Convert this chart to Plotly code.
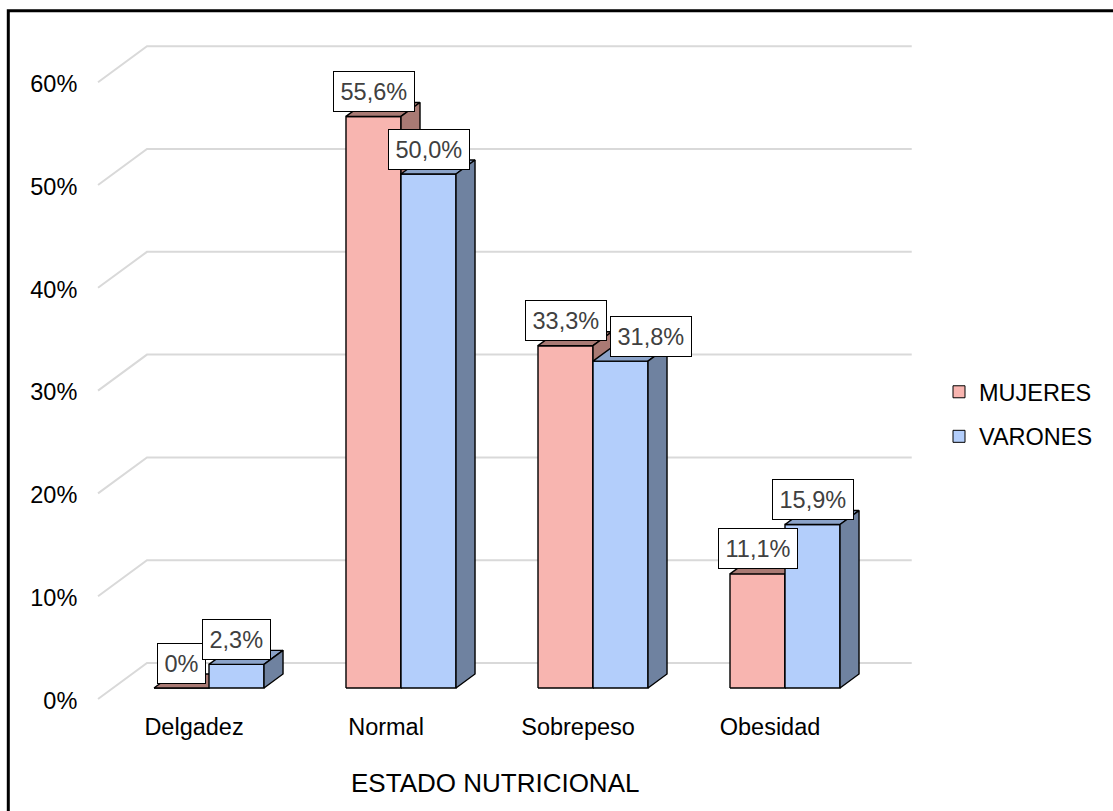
import plotly.graph_objects as go

# ---- data -------------------------------------------------------------
categories = ["Delgadez", "Normal", "Sobrepeso", "Obesidad"]
series_names = ["MUJERES", "VARONES"]
mujeres = [0.0, 55.6, 33.3, 11.1]
varones = [2.3, 50.0, 31.8, 15.9]
value_labels = {
    "MUJERES": ["0%", "55,6%", "33,3%", "11,1%"],
    "VARONES": ["2,3%", "50,0%", "31,8%", "15,9%"],
}
y_ticks = [0, 10, 20, 30, 40, 50, 60]
y_tick_text = ["0%", "10%", "20%", "30%", "40%", "50%", "60%"]

# ---- styling ------------------------------------------------------------
FONT = "Liberation Sans, Arial, sans-serif"
FS = 23.5
colors = {
    "MUJERES": dict(front="#F8B5B0", top="#A97A74", side="#A97A74"),
    "VARONES": dict(front="#B3CEFB", top="#8BA3C9", side="#6F82A0"),
}
EDGE = "#000000"
GRID = "#D9D9D9"

# page layout (pixels)
W, H = 1113, 811
ML, MR, MT, MB = 90, 5, 30, 109
PLOT_RIGHT = 920
PW, PH = W - ML - MR, H - MT - MB


def px_x(px):
    return (px - ML) / PW


def px_y(py):
    return (H - MB - py) / PH


# pseudo-3D geometry (in axis units)
BAR_W = 0.2865          # width of one column
DEPTH_X = 0.099         # column depth, horizontal component
DEPTH_Y = 1.36          # column depth, vertical component
WALL_LEFT_FRONT = -0.578
WALL_LEFT_BACK = -0.323
WALL_RIGHT = 3.66
WALL_BACK_DY = 2.43     # back wall offset above the column plane
WALL_FRONT_DY = -1.07   # front edge offset below the column plane
TICK_Y_DY = -1.216      # value-axis labels sit on the front edge
CAT_LABEL_DX = -0.078   # category labels sit on the front edge

LABEL_YSHIFT = 25       # px above the column's front top edge
LABEL_CLASH = 2.0       # values closer than this push the 2nd label sideways
LABEL_NUDGE = 30        # px sideways nudge for clashing labels

X_RANGE = [-0.6198, 3.7031]
Y_RANGE = [-1.362, 64.008]

fig = go.Figure()

# gridlines: diagonal on the side plane plus horizontal line on the back wall
gx, gy = [], []
for v in y_ticks:
    gx += [WALL_LEFT_FRONT, WALL_LEFT_BACK, WALL_RIGHT, None]
    gy += [v + WALL_FRONT_DY, v + WALL_BACK_DY, v + WALL_BACK_DY, None]
fig.add_trace(go.Scatter(x=gx, y=gy, mode="lines",
                         line=dict(color=GRID, width=2),
                         hoverinfo="skip", showlegend=False))


def poly(xs, ys, fill):
    fig.add_trace(go.Scatter(
        x=xs + [xs[0]], y=ys + [ys[0]], mode="lines", fill="toself",
        fillcolor=fill, line=dict(color=EDGE, width=1.4),
        hoverinfo="skip", showlegend=False))


series_values = {"MUJERES": mujeres, "VARONES": varones}
for i, _cat in enumerate(categories):
    for s, name in enumerate(series_names):
        v = series_values[name][i]
        c = colors[name]
        xl = i - BAR_W + s * BAR_W
        xr = xl + BAR_W
        # front face
        poly([xl, xr, xr, xl], [0, 0, v, v], c["front"])
        # top face
        poly([xl, xr, xr + DEPTH_X, xl + DEPTH_X],
             [v, v, v + DEPTH_Y, v + DEPTH_Y], c["top"])
        # right side face
        poly([xr, xr + DEPTH_X, xr + DEPTH_X, xr],
             [0, DEPTH_Y, v + DEPTH_Y, v], c["side"])

        xshift = 0
        if s == 1 and 0 < abs(mujeres[i] - varones[i]) < LABEL_CLASH \
                and min(mujeres[i], varones[i]) > 0:
            xshift = LABEL_NUDGE
        fig.add_annotation(
            x=(xl + xr) / 2, y=v, yshift=LABEL_YSHIFT, xshift=xshift,
            showarrow=False, text=value_labels[name][i],
            font=dict(family=FONT, size=FS, color="#404040"),
            bgcolor="#FFFFFF", bordercolor="#000000", borderwidth=1,
            borderpad=6.5, xanchor="center", yanchor="middle")

# legend entries
for name in series_names:
    fig.add_trace(go.Bar(x=[None], y=[None], name=name, legendgroup=name,
                         marker=dict(color=colors[name]["front"],
                                     line=dict(color="#000000", width=1))))

# category axis title
fig.add_annotation(x=px_x(494.5), y=px_y(783), xref="paper", yref="paper",
                   text="ESTADO NUTRICIONAL", showarrow=False,
                   font=dict(family=FONT, size=26, color="#000000"),
                   xanchor="center", yanchor="middle")

# chart-area frame
fig.add_shape(type="rect", xref="paper", yref="paper",
              x0=px_x(8.3), x1=px_x(W + 20), y0=px_y(H + 20), y1=px_y(10.7),
              line=dict(color="#000000", width=3), layer="above")

fig.update_layout(
    width=W, height=H,
    margin=dict(l=ML, r=MR, t=MT, b=MB),
    paper_bgcolor="#FFFFFF", plot_bgcolor="rgba(0,0,0,0)",
    font=dict(family=FONT, size=FS, color="#000000"),
    showlegend=True,
    legend=dict(x=px_x(939), y=px_y(370), xanchor="left", yanchor="top",
                font=dict(family=FONT, size=FS, color="#000000"),
                tracegroupgap=11, traceorder="grouped",
                bgcolor="rgba(0,0,0,0)"),
    xaxis=dict(range=X_RANGE, domain=[0, px_x(PLOT_RIGHT)],
               showgrid=False, zeroline=False, showline=False,
               tickmode="array",
               tickvals=[i + CAT_LABEL_DX for i in range(len(categories))],
               ticktext=categories, ticks="outside", ticklen=4,
               tickcolor="rgba(0,0,0,0)",
               tickfont=dict(family=FONT, size=FS, color="#000000")),
    yaxis=dict(range=Y_RANGE, showgrid=False, zeroline=False, showline=False,
               tickmode="array",
               tickvals=[v + TICK_Y_DY for v in y_ticks],
               ticktext=y_tick_text, ticks="outside", ticklen=7,
               tickcolor="rgba(0,0,0,0)",
               tickfont=dict(family=FONT, size=FS, color="#000000")),
)

fig.write_html("out.html")
